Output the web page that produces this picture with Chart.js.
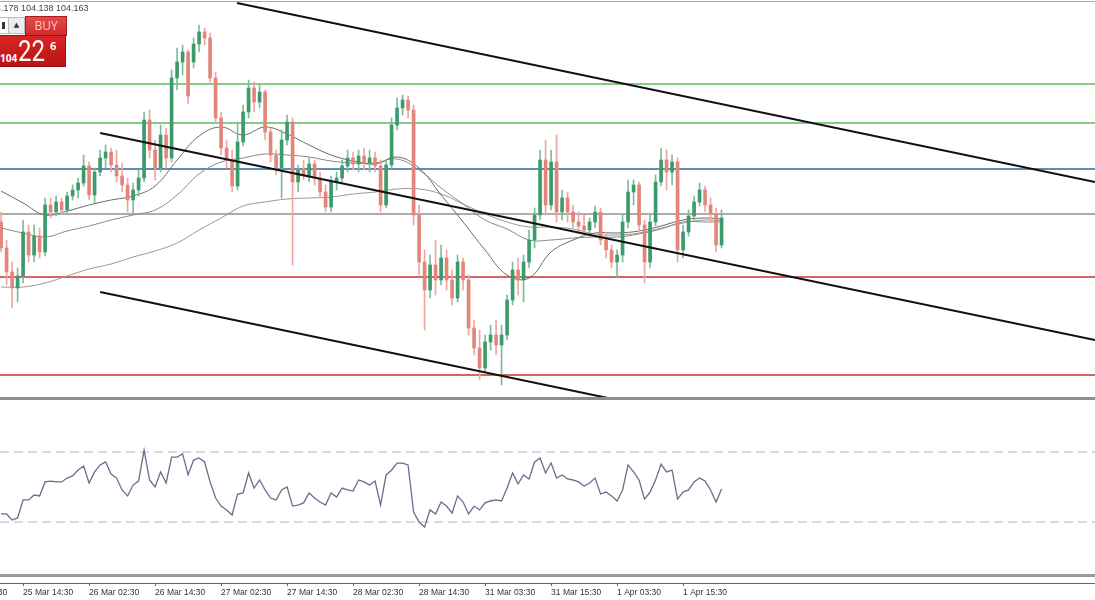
<!DOCTYPE html>
<html>
<head>
<meta charset="utf-8">
<title>H1 chart</title>
<script src="https://cdn.jsdelivr.net/npm/chart.js@4.4.1/dist/chart.umd.min.js"></script>
<style>
  html, body { margin: 0; padding: 0; background: #fff; overflow: hidden; }
  #wrap { position: relative; width: 1095px; height: 600px; background: #fff; overflow: hidden; }
  #priceChart { position: absolute; left: 0; top: 0; }
  #rsiChart { position: absolute; left: 0; top: 398px; }
  .sep { position: absolute; left: 0; width: 1095px; background: #8e8e8e; }
  #hdr { position: absolute; left: -14px; top: 3px; font: 9px 'Liberation Sans', sans-serif; color: #444; white-space: nowrap; }
  #trade div, #trade span { position: absolute; }
  #trade { position: absolute; left: 0; top: 16px; width: 66px; height: 50px; }
  #lots { left: -4px; top: 1px; width: 11px; height: 15px; background: #fff; border: 1px solid #bbb; }
  #lots i { position: absolute; left: 5px; top: 4px; width: 3px; height: 7px; background: #333; }
  #arrow { left: 8px; top: 1px; width: 15px; height: 15px; background: #ececec; border: 1px solid #bbb; font: 7px 'DejaVu Sans', sans-serif; color: #333; text-align: center; line-height: 14px; }
  #buy { left: 25px; top: 0; width: 40px; height: 18px; background: linear-gradient(#e24a4a, #cf2c2c); border: 1px solid #a81c1c; color: #f7c9c9; font: 12px 'Open Sans', sans-serif; text-align: center; line-height: 18px; }
  #quote { left: 0; top: 19px; width: 65px; height: 30px; background: linear-gradient(#d92424, #b91414); border: 1px solid #9c1010; border-left: none; color: #fff; }
  #q1 { left: 0; top: 17px; font: bold 10px 'Open Sans', sans-serif; line-height: 10px; }
  #q2 { left: 18px; top: 0; font: 400 30px Roboto, 'Open Sans', sans-serif; line-height: 30px; transform: scaleX(0.8); transform-origin: left top; }
  #q3 { left: 50px; top: 4px; font: bold 11px 'Open Sans', sans-serif; line-height: 11px; }
</style>
</head>
<body>
<div id="wrap">
  <canvas id="priceChart" width="1095" height="398"></canvas>
  <canvas id="rsiChart" width="1095" height="202"></canvas>
  <div class="sep" style="top:1px;height:1px;background:#aaa"></div>
  <div class="sep" style="top:397px;height:3px"></div>
  <div class="sep" style="top:574px;height:3px;background:#999"></div>
  <div id="hdr">104.178 104.138 104.163</div>
  <div id="trade">
    <div id="lots"><i></i></div>
    <div id="arrow">▲</div>
    <div id="buy">BUY</div>
    <div id="quote"><span id="q1">104</span><span id="q2">22</span><span id="q3">6</span></div>
  </div>
</div>
<script>
// hourly candles, 25 Mar 10:30 .. 1 Apr 23:30
const opens = [
  103.78, 103.52, 103.28, 103.12, 103.24, 103.68, 103.45, 103.64, 103.48, 103.95,
  103.88, 103.98, 103.90, 104.04, 104.10, 104.17, 104.34, 104.05, 104.28, 104.42,
  104.48, 104.35, 104.24, 104.15, 104.00, 104.10, 104.22, 104.80, 104.50, 104.32,
  104.65, 104.42, 105.22, 105.38, 105.48, 105.38, 105.56, 105.68, 105.62, 105.22,
  104.82, 104.52, 104.40, 104.14, 104.58, 104.88, 105.12, 104.98, 105.08, 104.68,
  104.45, 104.32, 104.60, 104.78, 104.18, 104.30, 104.24, 104.36, 104.22, 104.08,
  103.93, 104.18, 104.22, 104.34, 104.42, 104.36, 104.44, 104.37, 104.42, 104.34,
  103.95, 104.35, 104.75, 104.92, 105.00, 104.90, 103.85, 103.38, 103.10, 103.35,
  103.20, 103.42, 103.20, 103.02, 103.38, 103.20, 102.72, 102.52, 102.32, 102.58,
  102.65, 102.55, 102.65, 103.00, 103.30, 103.20, 103.38, 103.60, 103.85, 104.40,
  103.95, 104.38, 103.88, 104.02, 103.88, 103.78, 103.74, 103.70, 103.78, 103.88,
  103.60, 103.50, 103.38, 103.45, 103.78, 104.08, 104.15, 103.75, 103.38, 103.78,
  104.18, 104.40, 104.28, 104.38, 103.50, 103.68, 103.84, 103.98, 104.10, 103.95,
  103.86, 103.55
];
const highs = [
  103.88, 103.60, 103.38, 103.32, 103.80, 103.75, 103.75, 103.72, 104.02, 104.02,
  104.04, 104.02, 104.08, 104.15, 104.22, 104.45, 104.38, 104.32, 104.50, 104.55,
  104.52, 104.50, 104.37, 104.22, 104.17, 104.30, 104.88, 104.90, 104.60, 104.75,
  104.72, 105.30, 105.52, 105.55, 105.50, 105.62, 105.75, 105.72, 105.67, 105.28,
  104.88, 104.60, 104.50, 104.78, 104.95, 105.20, 105.18, 105.15, 105.10, 104.72,
  104.50, 104.70, 104.85, 104.82, 104.35, 104.40, 104.42, 104.40, 104.28, 104.15,
  104.24, 104.28, 104.40, 104.50, 104.48, 104.50, 104.52, 104.50, 104.48, 104.40,
  104.40, 104.82, 105.02, 105.05, 105.04, 104.95, 103.95, 103.50, 103.45, 103.60,
  103.55, 103.50, 103.30, 103.45, 103.42, 103.25, 102.80, 102.70, 102.65, 102.75,
  102.80, 102.75, 103.05, 103.38, 103.42, 103.45, 103.70, 103.92, 104.50, 104.60,
  104.50, 104.65, 104.10, 104.08, 103.95, 103.88, 103.85, 103.82, 103.94, 103.92,
  103.68, 103.55, 103.50, 103.85, 104.20, 104.20, 104.18, 103.80, 103.85, 104.25,
  104.52, 104.50, 104.45, 104.42, 103.75, 103.90, 104.04, 104.17, 104.14, 104.02,
  103.92, 103.90
];
const lows = [
  103.48, 103.15, 102.92, 102.98, 103.17, 103.38, 103.38, 103.42, 103.44, 103.82,
  103.84, 103.86, 103.87, 104.00, 104.02, 104.14, 104.00, 103.97, 104.24, 104.32,
  104.28, 104.18, 104.08, 103.88, 103.86, 104.04, 104.18, 104.42, 104.20, 104.28,
  104.32, 104.38, 105.10, 105.25, 104.96, 105.32, 105.48, 105.55, 105.18, 104.78,
  104.45, 104.32, 104.08, 104.10, 104.54, 104.82, 104.88, 104.92, 104.60, 104.38,
  104.25, 104.02, 104.55, 103.35, 104.08, 104.20, 104.18, 104.15, 104.02, 103.88,
  103.88, 104.10, 104.18, 104.28, 104.30, 104.28, 104.30, 104.28, 104.28, 103.88,
  103.92, 104.32, 104.70, 104.85, 104.82, 103.75, 103.25, 102.70, 103.02, 103.05,
  103.15, 103.10, 102.95, 102.98, 103.10, 102.65, 102.45, 102.20, 102.28, 102.50,
  102.45, 102.15, 102.60, 102.95, 103.05, 102.98, 103.32, 103.52, 103.80, 103.85,
  103.90, 103.78, 103.80, 103.78, 103.72, 103.68, 103.64, 103.64, 103.72, 103.55,
  103.42, 103.32, 103.22, 103.38, 103.72, 103.95, 103.68, 103.17, 103.32, 103.74,
  104.14, 104.10, 104.15, 103.38, 103.42, 103.64, 103.80, 103.94, 103.88, 103.78,
  103.48, 103.52
];
const closes = [
  103.52, 103.28, 103.12, 103.24, 103.68, 103.45, 103.64, 103.48, 103.95, 103.88,
  103.98, 103.90, 104.04, 104.10, 104.17, 104.34, 104.05, 104.28, 104.42, 104.48,
  104.35, 104.24, 104.15, 104.00, 104.10, 104.22, 104.80, 104.50, 104.32, 104.65,
  104.42, 105.22, 105.38, 105.48, 105.04, 105.56, 105.68, 105.62, 105.22, 104.82,
  104.52, 104.40, 104.14, 104.58, 104.88, 105.12, 104.98, 105.08, 104.68, 104.45,
  104.32, 104.60, 104.78, 104.18, 104.30, 104.24, 104.36, 104.22, 104.08, 103.93,
  104.18, 104.22, 104.34, 104.42, 104.36, 104.44, 104.37, 104.42, 104.34, 103.95,
  104.35, 104.75, 104.92, 105.00, 104.90, 103.85, 103.38, 103.10, 103.35, 103.20,
  103.42, 103.20, 103.02, 103.38, 103.20, 102.72, 102.52, 102.32, 102.58, 102.65,
  102.55, 102.65, 103.00, 103.30, 103.20, 103.38, 103.60, 103.85, 104.40, 103.95,
  104.38, 103.88, 104.02, 103.88, 103.78, 103.74, 103.70, 103.78, 103.88, 103.60,
  103.50, 103.38, 103.45, 103.78, 104.08, 104.15, 103.75, 103.38, 103.78, 104.18,
  104.40, 104.28, 104.38, 103.50, 103.68, 103.84, 103.98, 104.10, 103.95, 103.86,
  103.55, 103.82
];

// rsi, one value per candle
const rsi = [
  34.6, 34.6, 31.1, 32.3, 42.6, 42.6, 45.4, 44.9, 52.9, 53.4,
  52.9, 52.9, 55.1, 56.3, 59.7, 62.0, 52.3, 58.6, 62.6, 64.3,
  57.4, 55.1, 48.3, 44.9, 51.1, 53.4, 71.1, 54.0, 50.0, 58.6,
  52.3, 67.1, 67.1, 68.9, 56.9, 65.4, 66.6, 64.3, 52.9, 43.7,
  39.1, 36.9, 34.0, 46.0, 46.6, 58.0, 49.4, 54.0, 48.3, 43.7,
  42.6, 48.3, 50.0, 39.1, 39.7, 40.9, 46.6, 43.7, 41.4, 39.7,
  46.6, 44.3, 49.4, 48.3, 47.7, 54.0, 52.9, 51.1, 53.4, 39.7,
  56.9, 59.7, 63.7, 63.7, 62.6, 35.7, 30.0, 27.1, 36.9, 34.6,
  41.4, 39.1, 35.1, 44.9, 41.4, 34.6, 39.1, 36.9, 40.9, 42.0,
  42.6, 42.0, 49.4, 58.0, 51.7, 56.9, 54.6, 64.3, 66.6, 58.0,
  63.7, 55.1, 56.9, 54.6, 54.0, 52.9, 50.6, 52.3, 55.1, 46.0,
  47.1, 44.9, 42.0, 48.3, 62.6, 58.6, 54.0, 43.1, 47.1, 54.0,
  63.1, 58.6, 59.7, 43.1, 47.1, 48.3, 52.9, 55.1, 53.4, 48.3,
  41.4, 48.9
];
const rsiLevels = [70, 30];

// moving averages, read every 4th candle
const maIdx = [0, 4, 8, 12, 16, 20, 24, 28, 32, 36, 40, 44, 48, 52, 56, 60, 64,
  68, 72, 76, 80, 84, 88, 92, 96, 100, 104, 108, 112, 116, 120, 124, 128, 131];
const maFast = [104.09, 103.97, 103.85, 103.89, 103.95, 104.00, 104.04, 104.14, 104.40, 104.64,
  104.73, 104.65, 104.73, 104.66, 104.55, 104.45, 104.39, 104.36, 104.43, 104.32,
  104.05, 103.78, 103.50, 103.25, 103.22, 103.48, 103.60, 103.67, 103.67, 103.69,
  103.74, 103.80, 103.82, 103.81];
const maMid = [103.72, 103.67, 103.63, 103.69, 103.74, 103.80, 103.85, 103.90, 104.05, 104.26,
  104.38, 104.42, 104.46, 104.45, 104.43, 104.39, 104.37, 104.37, 104.41, 104.30,
  104.12, 103.96, 103.80, 103.71, 103.60, 103.60, 103.62, 103.63, 103.63, 103.66,
  103.71, 103.78, 103.78, 103.78];
const maSlow = [103.13, 103.13, 103.17, 103.24, 103.31, 103.36, 103.43, 103.49, 103.57, 103.70,
  103.82, 103.94, 103.98, 104.01, 104.02, 104.03, 104.06, 104.08, 104.11, 104.11,
  104.06, 103.96, 103.86, 103.78, 103.73, 103.73, 103.71, 103.66, 103.65, 103.67,
  103.72, 103.77, 103.80, 103.79];

// horizontal levels and channel lines
const levelPrices = [105.16, 104.77, 104.31, 103.86, 103.23, 102.25];
const levelColors = ['#5cb85c', '#5cb85c', '#2a6896', '#909090', '#c2362c', '#c2362c'];
const trendStartIdx = [42.9, 18, 18];
const trendStartPrice = [105.97, 104.67, 103.08];
const trendEndIdx = [198.9, 198.9, 110.3];
const trendEndPrice = [104.18, 102.60, 102.02];

// time axis
const tickIdx = [-8, 4, 16, 28, 40, 52, 64, 76, 88, 100, 112, 124];
const tickLabels = ['25 Mar 02:30', '25 Mar 14:30', '26 Mar 02:30', '26 Mar 14:30',
  '27 Mar 02:30', '27 Mar 14:30', '28 Mar 02:30', '28 Mar 14:30',
  '31 Mar 03:30', '31 Mar 15:30', '1 Apr 03:30', '1 Apr 15:30'];

const X_MIN = -0.2;
const X_MAX = 198.9;
const UP = '#3c9a6c';
const DOWN = '#e4857b';

Chart.defaults.font.family = "'Liberation Sans', sans-serif";
Chart.defaults.font.size = 8.5;

document.addEventListener('DOMContentLoaded', function() {
    const isUp = closes.map((c, i) => c >= opens[i]);

    const datasets = [];

    // channel lines on top
    trendStartIdx.forEach((x0, k) => {
        datasets.push({
            type: 'line',
            data: [{ x: x0, y: trendStartPrice[k] }, { x: trendEndIdx[k], y: trendEndPrice[k] }],
            borderColor: '#111',
            borderWidth: 2,
            pointRadius: 0,
            order: 0
        });
    });

    // candle bodies
    datasets.push({
        type: 'bar',
        data: opens.map((o, i) => ({ x: i, y: [o, closes[i]] })),
        backgroundColor: isUp.map(u => u ? UP : DOWN),
        barThickness: 3,
        minBarLength: 1,
        grouped: false,
        borderWidth: 0,
        order: 1
    });

    // candle wicks
    datasets.push({
        type: 'bar',
        data: lows.map((l, i) => ({ x: i, y: [l, highs[i]] })),
        backgroundColor: isUp.map(u => u ? '#7dbb9b' : '#eda79f'),
        barThickness: 1,
        grouped: false,
        borderWidth: 0,
        order: 2
    });

    // moving averages
    [[maFast, '#6a6a6a'], [maMid, '#8a8a8a'], [maSlow, '#999']].forEach(([vals, color]) => {
        datasets.push({
            type: 'line',
            data: maIdx.map((x, k) => ({ x: x, y: vals[k] })),
            borderColor: color,
            borderWidth: 1,
            pointRadius: 0,
            tension: 0.4,
            order: 3
        });
    });

    // horizontal levels
    levelPrices.forEach((p, k) => {
        datasets.push({
            type: 'line',
            data: [{ x: X_MIN, y: p }, { x: X_MAX, y: p }],
            borderColor: levelColors[k],
            borderWidth: 1.5,
            pointRadius: 0,
            order: 4
        });
    });

    new Chart(document.getElementById('priceChart'), {
        type: 'bar',
        data: { datasets: datasets },
        options: {
            responsive: false,
            animation: false,
            devicePixelRatio: 1,
            layout: { padding: 0 },
            scales: {
                x: { type: 'linear', min: X_MIN, max: X_MAX, offset: false, display: false },
                y: { min: 102.02, max: 106.0, display: false }
            },
            plugins: {
                legend: { display: false },
                tooltip: { enabled: false }
            }
        }
    });

    // rsi pane with time axis
    const rsiSets = [{
        data: rsi.map((v, i) => ({ x: i, y: v })),
        borderColor: '#6b6b8e',
        borderWidth: 1.3,
        pointRadius: 0,
        tension: 0,
        order: 0
    }];
    rsiLevels.forEach(lv => {
        rsiSets.push({
            data: [{ x: X_MIN, y: lv }, { x: X_MAX, y: lv }],
            borderColor: '#b3b3bb',
            borderWidth: 1,
            borderDash: [9, 5],
            pointRadius: 0,
            order: 1
        });
    });

    new Chart(document.getElementById('rsiChart'), {
        type: 'line',
        data: { datasets: rsiSets },
        options: {
            responsive: false,
            animation: false,
            devicePixelRatio: 1,
            layout: { padding: { top: 1.5, left: 0, right: 0, bottom: 0 } },
            scales: {
                x: {
                    type: 'linear',
                    min: X_MIN,
                    max: X_MAX,
                    offset: false,
                    position: 'bottom',
                    afterBuildTicks: function(scale) {
                        scale.ticks = tickIdx.map(v => ({ value: v }));
                    },
                    afterFit: function(scale) {
                        scale.height = 17;
                        scale.paddingLeft = 0;
                        scale.paddingRight = 0;
                    },
                    ticks: {
                        autoSkip: false,
                        maxRotation: 0,
                        minRotation: 0,
                        align: 'start',
                        padding: 2,
                        color: '#333',
                        font: { size: 8.5 },
                        callback: function(value) {
                            const k = tickIdx.indexOf(value);
                            return k >= 0 ? tickLabels[k] : '';
                        }
                    },
                    grid: { drawOnChartArea: false, drawTicks: true, tickLength: 3, color: '#666' },
                    border: { display: true, color: '#666', width: 1 }
                },
                y: { min: -4.857, max: 100, display: false }
            },
            plugins: {
                legend: { display: false },
                tooltip: { enabled: false }
            }
        }
    });
});
</script>
</body>
</html>
